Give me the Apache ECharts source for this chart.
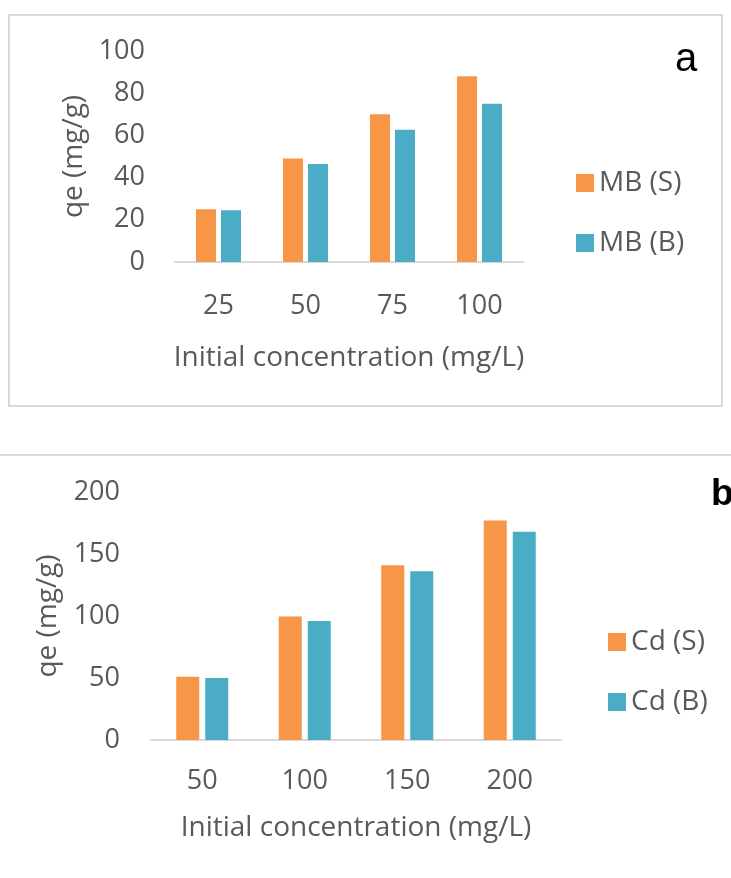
<!DOCTYPE html>
<html>
<head>
<meta charset="utf-8">
<script src="https://cdn.jsdelivr.net/npm/echarts@6/dist/echarts.min.js"></script>
<style>
html,body{margin:0;padding:0;background:#fff;}
#chart{width:731px;height:878px;}
</style>
</head>
<body>
<div id="chart"></div>
<script>
// Panel a
const categoriesA = ['25', '50', '75', '100'];
const mbS = [25, 49, 70, 88];
const mbB = [24.5, 46.5, 62.7, 75];
// Panel b
const categoriesB = ['50', '100', '150', '200'];
const cdS = [51, 99.5, 141, 177];
const cdB = [50, 96, 136, 168];

const ORANGE = '#F79646';
const BLUE = '#4BACC6';
const TXT = '#595959';
const FONT = 'Open Sans';

const chart = echarts.init(document.getElementById('chart'), null, {renderer: 'canvas'});

function xAxisCfg(grid, cats, margin, nameGap) {
  return {
    type: 'category', gridIndex: grid, data: cats,
    axisTick: {show: false},
    axisLine: {show: true, lineStyle: {color: '#d9d9d9', width: 2}},
    axisLabel: {color: TXT, fontSize: 27, fontFamily: FONT, margin: margin},
    name: 'Initial concentration (mg/L)', nameLocation: 'middle', nameGap: nameGap,
    nameTextStyle: {color: TXT, fontSize: 28, fontFamily: FONT}
  };
}
function yAxisCfg(grid, max, interval, margin, nameGap) {
  return {
    type: 'value', gridIndex: grid, min: 0, max: max, interval: interval,
    splitLine: {show: false}, axisLine: {show: false}, axisTick: {show: false},
    axisLabel: {color: TXT, fontSize: 27, fontFamily: FONT, margin: margin},
    name: 'qe (mg/g)', nameLocation: 'middle', nameGap: nameGap, nameRotate: 90,
    nameTextStyle: {color: TXT, fontSize: 28, fontFamily: FONT}
  };
}

chart.setOption({
  animation: false,
  backgroundColor: '#fff',
  grid: [
    {left: 175, top: 51, width: 348, height: 211},
    {left: 151, top: 492, width: 410, height: 248}
  ],
  xAxis: [xAxisCfg(0, categoriesA, 31, 82), xAxisCfg(1, categoriesB, 28, 74)],
  yAxis: [yAxisCfg(0, 100, 20, 30, 87), yAxisCfg(1, 200, 50, 31, 89)],
  legend: [
    {
      orient: 'vertical', left: 571, top: 163, itemWidth: 18, itemHeight: 18, itemGap: 30,
      icon: 'rect', data: ['MB (S)', 'MB (B)'],
      textStyle: {color: TXT, fontSize: 28, fontFamily: FONT, lineHeight: 30}
    },
    {
      orient: 'vertical', left: 603, top: 622, itemWidth: 18, itemHeight: 18, itemGap: 30,
      icon: 'rect', data: ['Cd (S)', 'Cd (B)'],
      textStyle: {color: TXT, fontSize: 28, fontFamily: FONT, lineHeight: 30}
    }
  ],
  series: [
    {name: 'MB (S)', type: 'bar', xAxisIndex: 0, yAxisIndex: 0, data: mbS, barWidth: 20, barGap: '25%', itemStyle: {color: ORANGE}},
    {name: 'MB (B)', type: 'bar', xAxisIndex: 0, yAxisIndex: 0, data: mbB, barWidth: 20, barGap: '25%', itemStyle: {color: BLUE}},
    {name: 'Cd (S)', type: 'bar', xAxisIndex: 1, yAxisIndex: 1, data: cdS, barWidth: 23, barGap: '26%', itemStyle: {color: ORANGE}},
    {name: 'Cd (B)', type: 'bar', xAxisIndex: 1, yAxisIndex: 1, data: cdB, barWidth: 23, barGap: '26%', itemStyle: {color: BLUE}}
  ],
  graphic: [
    {type: 'rect', shape: {x: 9, y: 15, width: 713, height: 391}, style: {fill: 'none', stroke: '#d9d9d9', lineWidth: 2}, z: -1},
    {type: 'line', shape: {x1: 0, y1: 455, x2: 731, y2: 455}, style: {stroke: '#d9d9d9', lineWidth: 2}, z: -1},
    {type: 'text', left: 675, top: 40, style: {text: 'a', fill: '#000', font: '40px "Liberation Sans", Arial, sans-serif'}},
    {type: 'text', left: 711, top: 476, style: {text: 'b', fill: '#000', font: 'bold 37px "Liberation Sans", Arial, sans-serif'}}
  ]
});
</script>
</body>
</html>
